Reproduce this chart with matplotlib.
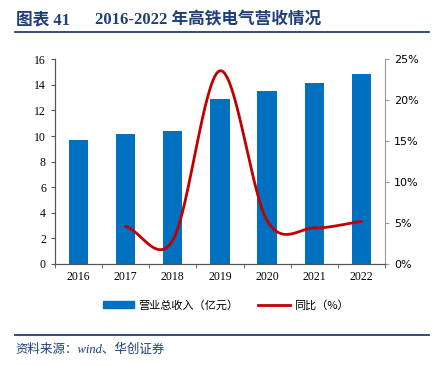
import numpy as np
import matplotlib.pyplot as plt
from matplotlib.lines import Line2D
from matplotlib.patches import Patch

years = ['2016', '2017', '2018', '2019', '2020', '2021', '2022']
revenue = [9.69, 10.14, 10.42, 12.87, 13.55, 14.12, 14.88]
growth_years = ['2017', '2018', '2019', '2020', '2021', '2022']
growth = [4.6, 2.9, 23.6, 5.3, 4.4, 5.2]

BLUE = '#0070C0'
RED = '#C00000'
NAVY = '#1F3F77'
SERIF = ['Liberation Serif', 'Noto Sans CJK SC']
CJK = ['Noto Sans CJK SC', 'DejaVu Sans']


def catmull_rom(x, y, n=40):
    """Smooth curve through the points, like Excel's smoothed line."""
    x = np.asarray(x, float)
    y = np.asarray(y, float)
    px = np.concatenate([[2 * x[0] - x[1]], x, [2 * x[-1] - x[-2]]])
    py = np.concatenate([[2 * y[0] - y[1]], y, [2 * y[-1] - y[-2]]])
    xs, ys = [], []
    t = np.linspace(0, 1, n)
    for i in range(1, len(px) - 2):
        for p, out in ((px, xs), (py, ys)):
            p0, p1, p2, p3 = p[i - 1], p[i], p[i + 1], p[i + 2]
            out.extend(0.5 * (2 * p1 + (-p0 + p2) * t
                              + (2 * p0 - 5 * p1 + 4 * p2 - p3) * t ** 2
                              + (-p0 + 3 * p1 - 3 * p2 + p3) * t ** 3))
    return np.array(xs), np.array(ys)


fig = plt.figure(figsize=(4.34, 3.66), dpi=100)
ax = fig.add_axes([0.1267, 0.2787, 0.7603, 0.5593])
ax2 = ax.twinx()

x = np.arange(len(years))
ax.bar(x, revenue, width=0.41, color=BLUE, zorder=2)
ax.set_xlim(-0.5, len(years) - 0.5)
ax.set_ylim(0, 16)
ax.set_yticks(range(0, 17, 2))
ax.set_xticks(x)
ax.set_xticklabels(years, fontfamily='Liberation Serif', fontsize=8.5)
ax.set_xticks(np.arange(-0.5, len(years)), minor=True)
ax.tick_params(axis='x', which='major', length=0, pad=5)
ax.tick_params(axis='x', which='minor', length=3, direction='out', color='#555555')
ax.tick_params(axis='y', length=3, direction='out', color='#555555', labelsize=8.5)
for lab in ax.get_yticklabels():
    lab.set_fontfamily('Liberation Serif')

gx = np.array([years.index(g) for g in growth_years])
sx, sy = catmull_rom(gx, growth)
ax2.plot(sx, sy, color=RED, lw=2, solid_capstyle='round')
ax2.set_ylim(0, 25)
ax2.set_yticks(range(0, 26, 5))
ax2.set_yticklabels([f'{v}%' for v in range(0, 26, 5)], fontfamily='DejaVu Sans')
ax2.tick_params(axis='y', length=3, direction='out', color='#999999', labelsize=8)

for a in (ax, ax2):
    a.spines['top'].set_visible(False)
ax.spines['right'].set_visible(False)
ax2.spines['left'].set_color('#555555')
ax2.spines['bottom'].set_color('#555555')
ax2.spines['right'].set_color('#999999')
ax.spines['left'].set_color('#555555')
ax.spines['bottom'].set_color('#555555')

handles = [Patch(color=BLUE), Line2D([], [], color=RED, lw=2)]
fig.legend(handles, ['营业总收入（亿元）', '同比（%）'], loc='center',
           bbox_to_anchor=(0.52, 0.166), ncol=2, frameon=False,
           prop={'family': CJK, 'size': 8}, handlelength=2.8,
           handleheight=0.5, columnspacing=1.8, handletextpad=0.4)

fig.text(0.036, 0.945, '图表 41', fontfamily=SERIF, fontweight='bold',
         fontsize=12, color=NAVY, va='center')
fig.text(0.22, 0.945, '2016-2022 年高铁电气营收情况', fontfamily=SERIF,
         fontweight='bold', fontsize=12, color=NAVY, va='center')
fig.add_artist(Line2D([0.035, 0.988], [0.912, 0.912], color=NAVY, lw=1.3))
fig.add_artist(Line2D([0.035, 0.988], [0.085, 0.085], color=NAVY, lw=1.3))
fig.text(0.036, 0.045, '资料来源：wind、华创证券', fontfamily=SERIF, style='italic',
         fontsize=9, color=NAVY, va='center')

fig.savefig('out.png', dpi=100)
